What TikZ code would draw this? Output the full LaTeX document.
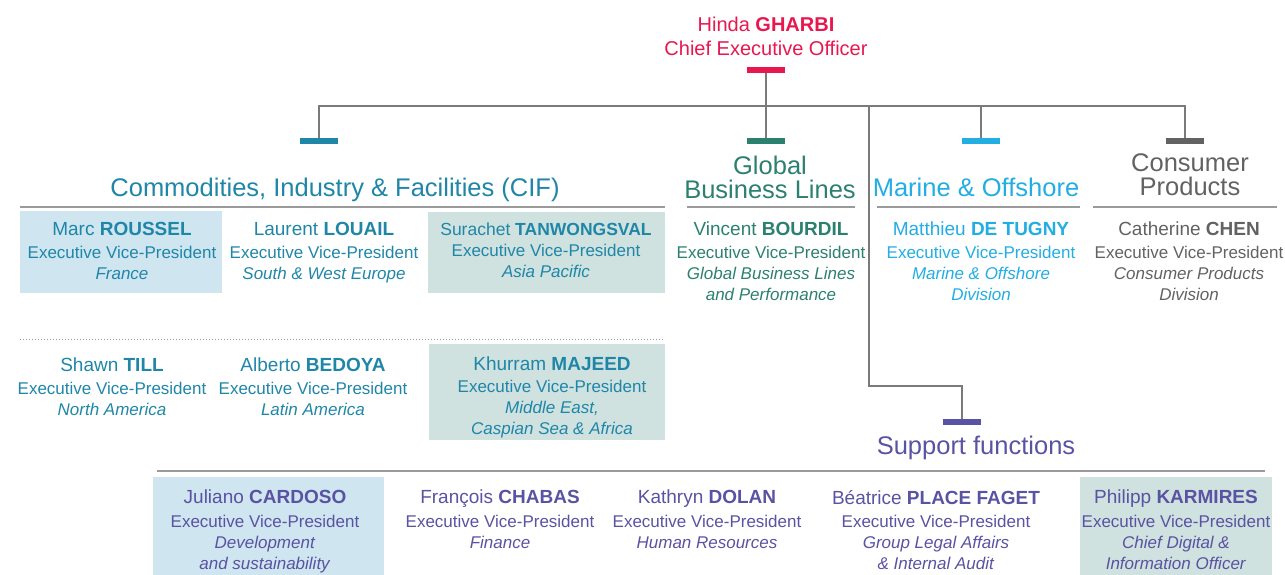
\documentclass[tikz,border=0pt]{standalone}
\usepackage{fontspec}
\setmainfont{Liberation Sans}
\usepackage{xcolor}
\usetikzlibrary{positioning}

\definecolor{ceored}{HTML}{E8174F}
\definecolor{cifblue}{HTML}{1F86A8}
\definecolor{gblgreen}{HTML}{2C8070}
\definecolor{moblue}{HTML}{22ADE3}
\definecolor{cpgray}{HTML}{626262}
\definecolor{suppurple}{HTML}{5A52A2}
\definecolor{linegray}{HTML}{7A7A7A}
\definecolor{rulegray}{HTML}{9A9A9A}
\definecolor{fillblue}{HTML}{CFE6F1}
\definecolor{fillsage}{HTML}{CFE2DF}

\newcommand{\who}[2]{{\fontsize{19}{21}\selectfont #1 \textbf{#2}}}
\newcommand{\evp}{Executive Vice-President}

\begin{document}
\begin{tikzpicture}[
    x=1pt, y=-1pt,
    bar/.style={fill=#1, minimum width=38pt, minimum height=6pt, inner sep=0pt},
    conn/.style={draw=linegray, line width=1.3pt},
    rule/.style={draw=rulegray, line width=1.4pt},
    heading/.style={anchor=north, align=center, inner sep=0pt, font=\fontsize{25.5}{24}\selectfont},
    person/.style={anchor=north, align=center, inner sep=0pt, font=\fontsize{17}{21}\selectfont},
]
\useasboundingbox (0,0) rectangle (1285,575);

% highlighted boxes
\fill[fillblue] (20,211) rectangle (222,293);
\fill[fillsage] (428,212) rectangle (665,293);
\fill[fillsage] (429,344) rectangle (665,440);
\fill[fillblue] (153,477) rectangle (384,575);
\fill[fillsage] (1080,477) rectangle (1272,575);

% CEO
\node[anchor=north, align=center, inner sep=0pt, text=ceored, font=\fontsize{20}{24}\selectfont] (ceo) at (766,17)
    {Hinda \textbf{GHARBI}\\Chief Executive Officer};
\node[bar=ceored] (barceo) at (766,70) {};

% divisions
\node[bar=cifblue] (barcif) at (319,141) {};
\node[bar=gblgreen] (bargbl) at (766,141) {};
\node[bar=moblue] (barmo) at (981,141) {};
\node[bar=cpgray] (barcp) at (1185,141) {};
\node[bar=suppurple] (barsup) at (962,422) {};

\node[heading, text=cifblue] (cif) at (335,178) {Commodities, Industry \& Facilities (CIF)};
\node[heading, text=gblgreen] (gbl) at (770,156) {Global\\Business Lines};
\node[heading, text=moblue] (mo) at (976,178) {Marine \& Offshore};
\node[heading, text=cpgray] (cp) at (1190,153) {Consumer\\Products};
\node[heading, text=suppurple] (sup) at (976,436) {Support functions};

% connectors
\coordinate (busl) at (319,106);
\coordinate (busr) at (1185,106);
\coordinate (supjoint) at (869,106);
\coordinate (supbend) at (869,386);
\draw[conn] (barceo.south) -- (bargbl.north);
\draw[conn] (barcif.north) -- (busl) -- (busr) -- (barcp.north);
\draw[conn] (barmo.north) -- (barmo.north |- busl);
\draw[conn] (supjoint) -- (supbend) -| (barsup.north);

% rules under headings
\draw[rule] (20,207) -- (665,207);
\draw[rule] (687,207) -- (855,207);
\draw[rule] (877,207) -- (1080,207);
\draw[rule] (1093,207) -- (1277,207);
\draw[draw=rulegray, line width=1pt, dotted] (20,339) -- (665,339);
\draw[rule] (157,471) -- (1265,471);

% CIF
\node[person, text=cifblue] (roussel) at (122,222) {\who{Marc}{ROUSSEL}\\[2.5pt]\evp\\\textit{France}};
\node[person, text=cifblue] (louail) at (324,222) {\who{Laurent}{LOUAIL}\\[2.5pt]\evp\\\textit{South \& West Europe}};
\node[person, text=cifblue] (tanwongsval) at (546,223) {{\fontsize{17.5}{21}\selectfont Surachet \textbf{TANWONGSVAL}}\\\evp\\\textit{Asia Pacific}};
\node[person, text=cifblue] (till) at (112,358) {\who{Shawn}{TILL}\\[2pt]\evp\\\textit{North America}};
\node[person, text=cifblue] (bedoya) at (313,358) {\who{Alberto}{BEDOYA}\\[2pt]\evp\\\textit{Latin America}};
\node[person, text=cifblue] (majeed) at (552,357) {\who{Khurram}{MAJEED}\\[1pt]\evp\\\textit{Middle East,}\\\textit{Caspian Sea \& Africa}};

% GBL, M&O, CP
\node[person, text=gblgreen] (bourdil) at (771,222) {\who{Vincent}{BOURDIL}\\[2pt]\evp\\\textit{Global Business Lines}\\\textit{and Performance}};
\node[person, text=moblue] (detugny) at (981,222) {\who{Matthieu}{DE TUGNY}\\[2pt]\evp\\\textit{Marine \& Offshore}\\\textit{Division}};
\node[person, text=cpgray] (chen) at (1189,222) {\who{Catherine}{CHEN}\\[2pt]\evp\\\textit{Consumer Products}\\\textit{Division}};

% support functions
\node[person, text=suppurple] (cardoso) at (265,490) {\who{Juliano}{CARDOSO}\\[2.5pt]\evp\\\textit{Development}\\\textit{and sustainability}};
\node[person, text=suppurple] (chabas) at (500,490) {\who{François}{CHABAS}\\[2.5pt]\evp\\\textit{Finance}};
\node[person, text=suppurple] (dolan) at (707,490) {\who{Kathryn}{DOLAN}\\[2.5pt]\evp\\\textit{Human Resources}};
\node[person, text=suppurple] (placefaget) at (936,490) {\who{Béatrice}{PLACE FAGET}\\[2.5pt]\evp\\\textit{Group Legal Affairs}\\\textit{\& Internal Audit}};
\node[person, text=suppurple] (karmires) at (1176,490) {\who{Philipp}{KARMIRES}\\[2.5pt]\evp\\\textit{Chief Digital \&}\\\textit{Information Officer}};
\end{tikzpicture}
\end{document}
